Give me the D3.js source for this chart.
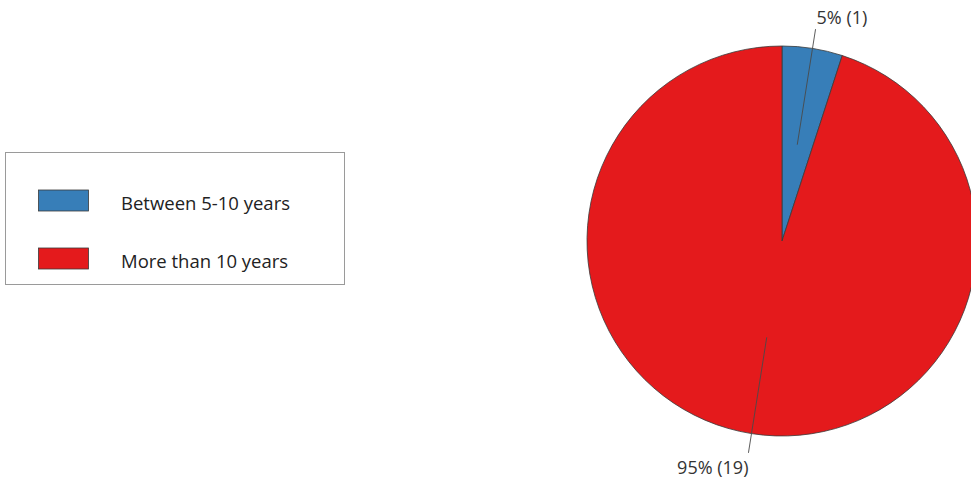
<!DOCTYPE html>
<html>
<head>
<meta charset="utf-8">
<script src="https://cdn.jsdelivr.net/npm/d3@7"></script>
<style>
  html, body { margin: 0; padding: 0; background: #fff; }
  svg { display: block; font-family: "Open Sans", "Noto Sans", sans-serif; }
</style>
</head>
<body>
<svg id="chart" width="971" height="485"></svg>
<script>
const categories = ["Between 5-10 years", "More than 10 years"];
const counts = [1, 19];
const colors = ["#377eb8", "#e41a1c"];

const svg = d3.select("#chart");
const cx = 782, cy = 241, R = 195;
const total = d3.sum(counts);

const data = categories.map((c, i) => ({ cat: c, value: counts[i], color: colors[i] }));
const pie = d3.pie().value(d => d.value).sort(null);
const arcs = pie(data);
const arc = d3.arc().innerRadius(0).outerRadius(R);

const g = svg.append("g").attr("transform", `translate(${cx},${cy})`);
g.selectAll("path.slice").data(arcs).join("path")
  .attr("class", "slice")
  .attr("d", arc)
  .attr("fill", d => d.data.color)
  .attr("stroke", "#3a3a3a")
  .attr("stroke-width", 0.8);

// leader lines and labels
arcs.forEach(a => {
  const mid = (a.startAngle + a.endAngle) / 2;
  const p = r => [Math.sin(mid) * r, -Math.cos(mid) * r];
  const [x1, y1] = p(R * 0.5);
  const [x2, y2] = p(R * 1.1);
  g.append("line")
    .attr("x1", x1).attr("y1", y1).attr("x2", x2).attr("y2", y2)
    .attr("stroke", "#4a4a4a").attr("stroke-width", 0.9);
  const pct = Math.round(a.data.value / total * 100);
  const right = Math.sin(mid) >= 0;
  const top = -Math.cos(mid) < 0;
  g.append("text")
    .attr("x", x2 + (right ? 1 : 0))
    .attr("y", top ? y2 - 5 : y2 + 21)
    .attr("text-anchor", right ? "start" : "end")
    .attr("font-size", 18)
    .attr("fill", "#333")
    .text(`${pct}% (${a.data.value})`);
});

// legend
const lg = svg.append("g");
lg.append("rect").attr("x", 5.5).attr("y", 152.5).attr("width", 339).attr("height", 132)
  .attr("fill", "#fff").attr("stroke", "#9a9a9a").attr("stroke-width", 1);
const ly = d3.scalePoint().domain(categories).range([200.5, 258.5]);
categories.forEach((c, i) => {
  lg.append("rect").attr("x", 38.5).attr("y", ly(c) - 10.5).attr("width", 50).attr("height", 21)
    .attr("fill", colors[i]).attr("stroke", "#3a3a3a").attr("stroke-width", 0.8);
  lg.append("text").attr("x", 121).attr("y", ly(c) + 3).attr("dy", "0.35em")
    .attr("font-size", 18.5).attr("fill", "#222").text(c);
});
</script>
</body>
</html>
